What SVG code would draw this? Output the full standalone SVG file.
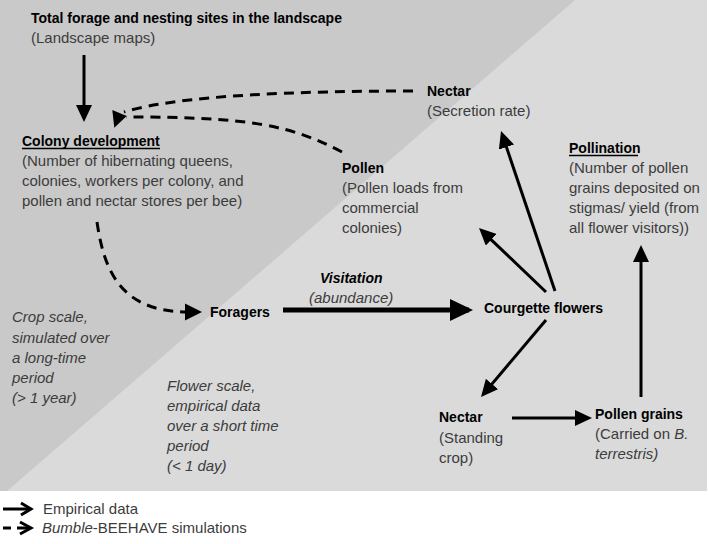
<svg xmlns="http://www.w3.org/2000/svg" width="709" height="544" viewBox="0 0 709 544">
<defs>
<style>
.b{font-family:"Liberation Sans",Arial,sans-serif;font-weight:bold;font-size:14px;fill:#000}
.r{font-family:"Liberation Sans",Arial,sans-serif;font-size:15px;fill:#3c3c3c}
.i{font-family:"Liberation Sans",Arial,sans-serif;font-style:italic;font-size:15px;fill:#3c3c3c}
.s{stroke:#000;stroke-width:3;fill:none}
.d{stroke:#000;stroke-width:3;fill:none;stroke-dasharray:10 7}
.u{stroke:#000;stroke-width:1.3}
</style>
<marker id="ah" markerUnits="userSpaceOnUse" markerWidth="17" markerHeight="16" refX="13" refY="8" orient="auto">
<path d="M0,0 L17,8 L0,16 z" fill="#000"/>
</marker>
<marker id="ahb" markerUnits="userSpaceOnUse" markerWidth="23" markerHeight="22" refX="19" refY="11" orient="auto">
<path d="M0,0 L23,11 L0,22 z" fill="#000"/>
</marker>
</defs>
<rect x="0" y="0" width="709" height="544" fill="#fff"/>
<g id="background">
<rect x="0" y="0" width="707" height="491" fill="#dadada"/>
<polygon points="0,0 575,0 7,491 0,491" fill="#c9c9c9"/>
</g>
<g id="connectors">
<line class="s" x1="84" y1="55" x2="84" y2="118" marker-end="url(#ah)"/>
<path class="d" d="M413,91 C300,91 180,95 124,112"/>
<path class="d" d="M342,152 C290,125 250,117 126,117"/>
<polygon points="112.3,110 114.3,127.7 126.7,116" fill="#000"/>
<path class="d" d="M97,222 C104,270 120,311 186,312"/>
<polygon points="185,303.5 185,320.5 202,312" fill="#000"/>
<line x1="283" y1="310" x2="469" y2="310" stroke="#000" stroke-width="5" marker-end="url(#ahb)"/>
<line class="s" x1="555" y1="291" x2="502.3" y2="134.8" marker-end="url(#ah)"/>
<line class="s" x1="546" y1="292" x2="481.9" y2="230.8" marker-end="url(#ah)"/>
<line class="s" x1="546" y1="320" x2="483.6" y2="393.9" marker-end="url(#ah)"/>
<line class="s" x1="512" y1="418" x2="588" y2="418" marker-end="url(#ah)"/>
<line class="s" x1="641" y1="397" x2="641" y2="249" marker-end="url(#ah)"/>
</g>
<g id="landscape">
<text class="b" x="31" y="23">Total forage and nesting sites in the landscape</text>
<text class="r" x="31" y="43">(Landscape maps)</text>
</g>
<g id="colony">
<text class="b" x="22" y="146">Colony development</text>
<line class="u" x1="22" y1="148.5" x2="160" y2="148.5"/>
<text class="r" x="22" y="166">(Number of hibernating queens,</text>
<text class="r" x="22" y="186">colonies, workers per colony, and</text>
<text class="r" x="22" y="206">pollen and nectar stores per bee)</text>
</g>
<g id="nectar-secretion">
<text class="b" x="427" y="96">Nectar</text>
<text class="r" x="427" y="116">(Secretion rate)</text>
</g>
<g id="pollen-commercial">
<text class="b" x="342" y="173">Pollen</text>
<text class="r" x="342" y="193">(Pollen loads from</text>
<text class="r" x="342" y="213">commercial</text>
<text class="r" x="342" y="233">colonies)</text>
</g>
<g id="pollination">
<text class="b" x="569" y="153">Pollination</text>
<line class="u" x1="569" y1="155.5" x2="638" y2="155.5"/>
<text class="r" x="569" y="173">(Number of pollen</text>
<text class="r" x="569" y="193">grains deposited on</text>
<text class="r" x="569" y="213">stigmas/ yield (from</text>
<text class="r" x="569" y="233">all flower visitors))</text>
</g>
<g id="visitation">
<text class="b" x="320" y="283" font-style="italic">Visitation</text>
<text class="i" x="309" y="303">(abundance)</text>
</g>
<g id="foragers">
<text class="b" x="210" y="317">Foragers</text>
</g>
<g id="courgette">
<text class="b" x="484" y="313">Courgette flowers</text>
</g>
<g id="nectar-standing">
<text class="b" x="439" y="422">Nectar</text>
<text class="r" x="439" y="443">(Standing</text>
<text class="r" x="439" y="463">crop)</text>
</g>
<g id="pollen-grains">
<text class="b" x="595" y="419">Pollen grains</text>
<text class="r" x="595" y="439">(Carried on <tspan font-style="italic">B.</tspan></text>
<text class="i" x="595" y="459">terrestris)</text>
</g>
<g id="crop-scale">
<text class="i" x="12" y="322">Crop scale,</text>
<text class="i" x="12" y="342.5">simulated over</text>
<text class="i" x="12" y="363">a long-time</text>
<text class="i" x="12" y="383">period</text>
<text class="i" x="12" y="403">(&gt; 1 year)</text>
</g>
<g id="flower-scale">
<text class="i" x="167" y="391">Flower scale,</text>
<text class="i" x="167" y="411">empirical data</text>
<text class="i" x="167" y="431">over a short time</text>
<text class="i" x="167" y="451">period</text>
<text class="i" x="167" y="471">(&lt; 1 day)</text>
</g>
<g id="legend">
<line class="s" x1="3" y1="509" x2="30" y2="509"/>
<polyline class="s" points="21,503 31,509 21,515"/>
<text class="r" x="43" y="514">Empirical data</text>
<line class="s" x1="3" y1="528" x2="11" y2="528"/>
<line class="s" x1="17" y1="528" x2="29" y2="528"/>
<polyline class="s" points="20,522 31,528 20,534"/>
<text class="r" x="42" y="533"><tspan font-style="italic">Bumble</tspan>-BEEHAVE simulations</text>
</g>
</svg>
